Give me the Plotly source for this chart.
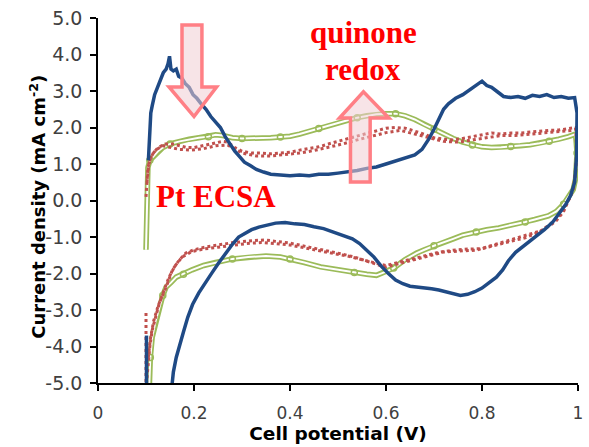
import plotly.graph_objects as go

# ---- cyclic voltammograms: potential (V) and current density (mA cm^-2) ----
# blue electrode: anodic sweep then cathodic sweep
blue_x = [0.105, 0.107, 0.110, 0.113, 0.118, 0.124, 0.130, 0.136, 0.142, 0.146, 0.149, 0.152,
          0.157, 0.163, 0.168, 0.175, 0.182, 0.190, 0.198, 0.206, 0.215, 0.225, 0.235, 0.245,
          0.255, 0.265, 0.275, 0.285, 0.295, 0.305, 0.318, 0.330, 0.345, 0.360, 0.380, 0.400,
          0.420, 0.440, 0.460, 0.480, 0.500, 0.520, 0.540, 0.560, 0.580, 0.600, 0.620, 0.640,
          0.660, 0.675, 0.690, 0.700, 0.710, 0.720, 0.730, 0.745, 0.760, 0.775, 0.790, 0.800,
          0.810, 0.820, 0.830, 0.845, 0.860, 0.875, 0.890, 0.905, 0.920, 0.935, 0.950, 0.965,
          0.980, 0.993,
          0.998, 0.997, 0.993, 0.985, 0.975, 0.962, 0.948, 0.930, 0.910, 0.890, 0.870, 0.855,
          0.843, 0.830, 0.815, 0.800, 0.785, 0.770, 0.755, 0.740, 0.725, 0.710, 0.695, 0.680,
          0.665, 0.650, 0.635, 0.620, 0.605, 0.590, 0.575, 0.560, 0.545, 0.530, 0.510, 0.490,
          0.470, 0.450, 0.430, 0.410, 0.390, 0.370, 0.350, 0.335, 0.320, 0.305, 0.293, 0.280,
          0.266, 0.252, 0.237, 0.223, 0.210, 0.197, 0.187, 0.178, 0.170, 0.163, 0.157, 0.153,
          0.150,
          None, 0.101, 0.101]
blue_y = [1.10, 1.80, 2.40, 2.60, 2.90, 3.10, 3.30, 3.50, 3.60, 3.75, 3.95, 3.60,
          3.55, 3.60, 3.40, 3.35, 3.20, 3.10, 2.90, 2.80, 2.65, 2.50, 2.30, 2.15,
          2.00, 1.75, 1.55, 1.35, 1.20, 1.05, 0.95, 0.85, 0.78, 0.72, 0.70, 0.68,
          0.70, 0.68, 0.72, 0.72, 0.75, 0.78, 0.82, 0.88, 0.92, 1.00, 1.08, 1.15,
          1.25, 1.40, 1.70, 1.95, 2.25, 2.50, 2.65, 2.80, 2.90, 3.05, 3.20, 3.27,
          3.15, 3.10, 3.00, 2.85, 2.82, 2.85, 2.80, 2.88, 2.85, 2.90, 2.82, 2.85,
          2.80, 2.82,
          2.40, 1.20, 0.50, 0.15, -0.10, -0.35, -0.58, -0.80, -1.00, -1.20, -1.42, -1.65,
          -1.90, -2.10, -2.25, -2.40, -2.50, -2.57, -2.60, -2.55, -2.48, -2.45, -2.42, -2.40,
          -2.38, -2.35, -2.28, -2.18, -2.00, -1.80, -1.55, -1.35, -1.18, -1.05, -0.95, -0.85,
          -0.77, -0.72, -0.66, -0.64, -0.60, -0.62, -0.67, -0.73, -0.80, -0.90, -1.00, -1.20,
          -1.44, -1.70, -1.99, -2.25, -2.53, -2.85, -3.20, -3.60, -4.00, -4.30, -4.70, -5.20,
          -5.60,
          None, -5.50, -3.70]

# red electrode, first cycle
red1_x = [0.100, 0.100, None,
          0.100, 0.101, 0.104, 0.108, 0.115, 0.125, 0.140, 0.155, 0.170, 0.185, 0.200, 0.220,
          0.240, 0.260, 0.270, 0.285, 0.300, 0.320, 0.340, 0.360, 0.380, 0.400, 0.420, 0.440,
          0.460, 0.480, 0.500, 0.520, 0.540, 0.560, 0.580, 0.600, 0.620, 0.640, 0.660, 0.680,
          0.700, 0.720, 0.740, 0.760, 0.780, 0.800, 0.820, 0.840, 0.860, 0.880, 0.900, 0.920,
          0.940, 0.960, 0.980, 0.995,
          0.998, 0.995, 0.990, 0.980, 0.970, 0.955, 0.940, 0.925, 0.900, 0.880, 0.856, 0.830,
          0.810, 0.788, 0.760, 0.740, 0.720, 0.700, 0.680, 0.660, 0.640, 0.620, 0.600, 0.588,
          0.570, 0.550, 0.534, 0.510, 0.490, 0.464, 0.440, 0.420, 0.396, 0.370, 0.348, 0.320,
          0.300, 0.278, 0.250, 0.225, 0.200, 0.183, 0.170, 0.155, 0.142, 0.128, 0.120, 0.113,
          0.108, 0.104, 0.101]
red1_y = [-5.30, -3.00, None,
          0.10, 0.40, 0.90, 1.10, 1.30, 1.45, 1.55, 1.55, 1.50, 1.45, 1.45, 1.50,
          1.55, 1.62, 1.60, 1.45, 1.35, 1.30, 1.30, 1.28, 1.30, 1.32, 1.38, 1.42,
          1.47, 1.55, 1.62, 1.70, 1.78, 1.85, 1.92, 1.98, 2.00, 1.98, 1.90, 1.80,
          1.72, 1.68, 1.66, 1.70, 1.75, 1.80, 1.85, 1.82, 1.85, 1.85, 1.88, 1.90,
          1.92, 1.93, 1.97, 2.00,
          1.50, 0.80, 0.30, 0.00, -0.30, -0.55, -0.70, -0.82, -0.92, -1.00, -1.08, -1.18,
          -1.27, -1.36, -1.38, -1.40, -1.41, -1.48, -1.55, -1.60, -1.67, -1.75, -1.82, -1.78,
          -1.70, -1.60, -1.55, -1.47, -1.42, -1.36, -1.28, -1.22, -1.16, -1.12, -1.08, -1.10,
          -1.12, -1.16, -1.22, -1.27, -1.35, -1.44, -1.62, -1.90, -2.37, -2.80, -3.20, -3.55,
          -4.00, -4.50, -5.00]

# red electrode, second cycle
red2_x = [0.102, 0.106, 0.112, 0.122, 0.135, 0.150, 0.170, 0.195, 0.220, 0.245, 0.270, 0.300,
          0.330, 0.360, 0.390, 0.420, 0.450, 0.480, 0.510, 0.540, 0.570, 0.600, 0.630, 0.660,
          0.690, 0.720, 0.750, 0.780, 0.810, 0.840, 0.870, 0.900, 0.930, 0.960, 0.985, 0.996,
          0.997, 0.992, 0.982, 0.965, 0.945, 0.920, 0.890, 0.860, 0.830, 0.800, 0.770, 0.740,
          0.710, 0.680, 0.650, 0.620, 0.600, 0.580, 0.550, 0.520, 0.490, 0.460, 0.430, 0.400,
          0.370, 0.340, 0.310, 0.280, 0.250, 0.220, 0.195, 0.175, 0.160, 0.148, 0.136, 0.125,
          0.116, 0.109, 0.104]
red2_y = [0.50, 1.00, 1.25, 1.40, 1.50, 1.45, 1.40, 1.38, 1.42, 1.50, 1.52, 1.30,
          1.22, 1.22, 1.25, 1.30, 1.37, 1.45, 1.55, 1.66, 1.76, 1.86, 1.92, 1.82,
          1.70, 1.62, 1.60, 1.66, 1.74, 1.78, 1.78, 1.82, 1.86, 1.88, 1.92, 1.95,
          1.20, 0.40, 0.05, -0.35, -0.62, -0.86, -1.02, -1.12, -1.22, -1.32, -1.33, -1.36,
          -1.42, -1.52, -1.62, -1.72, -1.78, -1.72, -1.62, -1.52, -1.45, -1.38, -1.30, -1.22,
          -1.18, -1.15, -1.18, -1.22, -1.28, -1.33, -1.40, -1.55, -1.80, -2.10, -2.50, -2.90,
          -3.30, -3.80, -4.40]

# green electrode
green_x = [0.100, 0.101, 0.102, 0.104, 0.108, 0.115, 0.125, 0.135, 0.150, 0.170, 0.190, 0.210,
           0.230, 0.245, 0.260, 0.280, 0.300, 0.320, 0.340, 0.360, 0.380, 0.400, 0.420, 0.440,
           0.460, 0.480, 0.500, 0.520, 0.540, 0.560, 0.580, 0.600, 0.620, 0.640, 0.660, 0.680,
           0.700, 0.720, 0.740, 0.760, 0.780, 0.800, 0.820, 0.840, 0.860, 0.880, 0.900, 0.920,
           0.940, 0.960, 0.980, 0.995,
           0.998, 0.995, 0.990, 0.980, 0.970, 0.955, 0.938, 0.910, 0.890, 0.860, 0.835, 0.810,
           0.788, 0.760, 0.740, 0.720, 0.700, 0.680, 0.664, 0.640, 0.616, 0.600, 0.580, 0.560,
           0.534, 0.500, 0.464, 0.430, 0.400, 0.380, 0.350, 0.313, 0.280, 0.245, 0.220, 0.196,
           0.178, 0.163, 0.152, 0.142, 0.135, 0.128, 0.120, 0.113, 0.109, 0.107, 0.106]
green_y = [-1.35, -0.50, 0.30, 0.90, 1.10, 1.20, 1.35, 1.45, 1.55, 1.62, 1.68, 1.72,
           1.75, 1.80, 1.78, 1.72, 1.70, 1.70, 1.71, 1.72, 1.74, 1.76, 1.82, 1.90,
           1.97, 2.05, 2.12, 2.20, 2.27, 2.32, 2.36, 2.38, 2.38, 2.32, 2.22, 2.08,
           1.95, 1.82, 1.70, 1.60, 1.52, 1.47, 1.45, 1.46, 1.48, 1.50, 1.53, 1.57,
           1.62, 1.68, 1.75, 1.82,
           1.30, 0.60, 0.30, 0.10, -0.10, -0.30, -0.42, -0.52, -0.59, -0.67, -0.75, -0.80,
           -0.86, -0.95, -1.05, -1.14, -1.24, -1.35, -1.44, -1.62, -1.85, -1.95, -2.05, -2.02,
           -1.97, -1.90, -1.82, -1.70, -1.60, -1.55, -1.52, -1.55, -1.60, -1.70, -1.78, -1.90,
           -2.02, -2.10, -2.25, -2.37, -2.60, -2.92, -3.30, -3.74, -4.30, -5.00, -5.50]

x_ticks = [0, 0.2, 0.4, 0.6, 0.8, 1.0]
x_tick_text = ["0", "0.2", "0.4", "0.6", "0.8", "1"]
y_ticks = [5, 4, 3, 2, 1, 0, -1, -2, -3, -4, -5]
y_tick_text = ["5.0", "4.0", "3.0", "2.0", "1.0", "0.0", "-1.0", "-2.0", "-3.0", "-4.0", "-5.0"]

BLUE = "#1F4A85"
RED = "#C0504D"
GREEN = "#9BBB59"

fig = go.Figure()

# green: outlined (hollow) line with occasional open circles
fig.add_trace(go.Scatter(x=green_x, y=green_y, mode="lines",
                         line=dict(color=GREEN, width=5.5), hoverinfo="skip"))
fig.add_trace(go.Scatter(x=green_x, y=green_y, mode="lines",
                         line=dict(color="white", width=2), hoverinfo="skip"))
fig.add_trace(go.Scatter(x=green_x[4::4], y=green_y[4::4], mode="markers",
                         marker=dict(symbol="circle-open", color=GREEN, size=6,
                                     line=dict(width=1.5)), hoverinfo="skip"))

# red: dotted sweeps
for rx, ry in ((red1_x, red1_y), (red2_x, red2_y)):
    fig.add_trace(go.Scatter(x=rx, y=ry, mode="lines",
                             line=dict(color=RED, width=3, dash="dot"), hoverinfo="skip"))

# blue: noisy solid sweep
fig.add_trace(go.Scatter(x=blue_x, y=blue_y, mode="lines",
                         line=dict(color=BLUE, width=3.5), hoverinfo="skip"))

# block arrows marking the two features
arrow_line = dict(color="#FF7F85", width=3.5)
arrow_fill = "rgba(240,205,212,0.55)"
down_arrow = ("M 0.175,4.81 L 0.2165,4.81 L 0.2165,3.11 L 0.247,3.11 L 0.200,2.30 "
              "L 0.148,3.11 L 0.175,3.11 Z")
up_arrow = ("M 0.526,0.51 L 0.567,0.51 L 0.567,2.26 L 0.606,2.26 L 0.553,2.98 "
            "L 0.503,2.26 L 0.526,2.26 Z")
shapes = [dict(type="path", xref="x", yref="y", path=p, line=arrow_line,
               fillcolor=arrow_fill, layer="above") for p in (down_arrow, up_arrow)]

# plot-area size in pixels, used to place the y-axis title
MARGIN_L, MARGIN_R, MARGIN_T, MARGIN_B = 98, 6, 18, 64
plot_w = 589 - MARGIN_L - MARGIN_R
plot_h = 447 - MARGIN_T - MARGIN_B

label_font = dict(family="Liberation Serif", size=31, color="#FF0000")
annotations = [
    dict(x=0.553, y=4.59, xref="x", yref="y", text="<b>quinone</b>", showarrow=False,
         font=label_font),
    dict(x=0.553, y=3.58, xref="x", yref="y", text="<b>redox</b>", showarrow=False,
         font=label_font),
    dict(x=0.245, y=0.12, xref="x", yref="y", text="<b>Pt ECSA</b>", showarrow=False,
         font=label_font),
    # y-axis title, centred 23 px from the left edge
    dict(x=(23 - MARGIN_L) / plot_w, y=(447 - MARGIN_B - 207) / plot_h,
         xref="paper", yref="paper",
         text="<b>Current density (mA cm<sup>-2</sup>)</b>",
         showarrow=False, textangle=-90,
         font=dict(family="DejaVu Sans", size=18, color="black")),
]

fig.update_layout(
    width=589, height=447,
    margin=dict(l=MARGIN_L, r=MARGIN_R, t=MARGIN_T, b=MARGIN_B),
    paper_bgcolor="white", plot_bgcolor="white",
    showlegend=False,
    shapes=shapes,
    annotations=annotations,
    xaxis=dict(range=[0, 1], tickvals=x_ticks, ticktext=x_tick_text,
               showgrid=False, zeroline=False, showline=True, linecolor="black",
               linewidth=1.5, ticks="outside", ticklen=6, tickcolor="black",
               tickwidth=1.5, ticklabelstandoff=8,
               tickfont=dict(family="DejaVu Sans", size=17, color="#404040"),
               title=dict(text="<b>Cell potential (V)</b>", standoff=4,
                          font=dict(family="DejaVu Sans", size=18.5, color="black"))),
    yaxis=dict(range=[-5, 5], tickvals=y_ticks, ticktext=y_tick_text,
               showgrid=False, zeroline=False, showline=True, linecolor="black",
               linewidth=1.5, ticks="outside", ticklen=6, tickcolor="black",
               tickwidth=1.5, ticklabelstandoff=4,
               tickfont=dict(family="DejaVu Sans", size=19, color="#404040")),
)

fig.write_html("out.html")
